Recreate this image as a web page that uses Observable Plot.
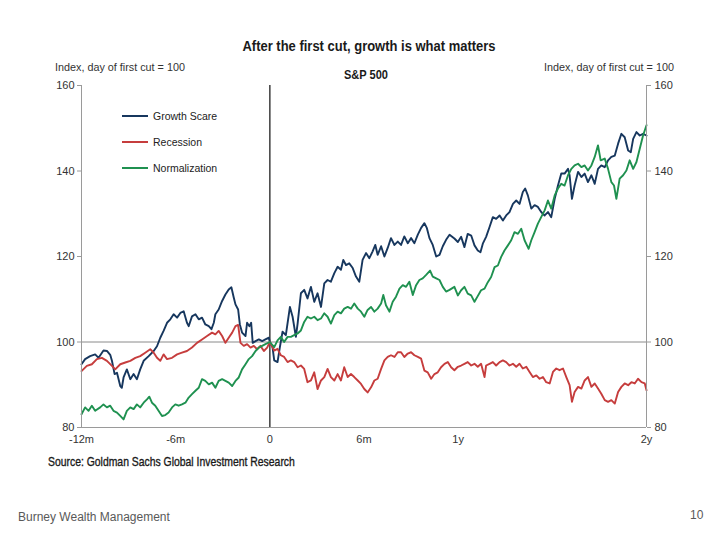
<!DOCTYPE html>
<html><head><meta charset="utf-8">
<script src="https://cdn.jsdelivr.net/npm/d3@7"></script>
<script src="https://cdn.jsdelivr.net/npm/@observablehq/plot@0.6"></script>
<style>
html,body{margin:0;padding:0;background:#fff;}
#wrap{position:relative;width:720px;height:540px;overflow:hidden;font-family:"Liberation Sans",Arial,sans-serif;background:#fff;}
#wrap svg{position:absolute;left:0;top:0;}
.t{position:absolute;white-space:nowrap;line-height:1;}
.leg{position:absolute;display:flex;align-items:center;font-size:10.5px;color:#222;line-height:1;}
.leg span.sw{display:inline-block;width:26px;height:2px;margin-right:5px;}
</style></head><body><div id="wrap"></div>
<script>
// months relative to first cut, index value (day of first cut = 100)
const growthScare = [
[-12.00,94.8],[-11.77,96],[-11.45,96.7],[-11.13,97.1],[-10.91,96.3],[-10.60,98],[-10.38,97.9],[-10.17,97],[-10.06,95.6],[-9.89,92.5],[-9.74,92.8],[-9.53,89.7],[-9.43,89.3],[-9.32,91.7],[-9.11,93.6],[-8.89,91.3],[-8.68,92.5],[-8.47,91.3],[-8.26,93.6],[-8.04,95.6],[-7.72,96.7],[-7.40,97.9],[-7.19,99],[-6.98,101],[-6.77,102.6],[-6.55,104.5],[-6.34,105.3],[-6.13,106.5],[-5.91,105.7],[-5.70,106.8],[-5.49,107.2],[-5.28,104.5],[-5.17,103.7],[-4.96,106],[-4.74,106.5],[-4.53,105.3],[-4.32,105.7],[-4.11,104.1],[-3.89,103.7],[-3.72,103],[-3.57,104.5],[-3.47,106.5],[-3.26,107.6],[-3.04,109.6],[-2.83,111.1],[-2.62,112.3],[-2.45,112.8],[-2.30,110.4],[-2.19,108.8],[-2.02,107.6],[-1.91,104.1],[-1.77,102.2],[-1.55,101.4],[-1.45,104.5],[-1.30,103.7],[-1.19,104.5],[-1.09,99.8],[-0.91,100.2],[-0.70,100.6],[-0.49,100.2],[-0.28,100.6],[-0.06,101],
[0,100],[0.17,98.8],[0.28,95.7],[0.49,95.3],[0.64,98.8],[0.81,102.4],[1.02,101.6],[1.28,108.2],[1.45,105.9],[1.66,101.2],[1.77,104.3],[1.98,111.4],[2.19,112.2],[2.40,110.2],[2.62,112.9],[2.83,109.4],[3.04,111.4],[3.26,108.2],[3.47,113.7],[3.68,114.5],[3.89,114.1],[4.11,116.1],[4.32,117.6],[4.53,116.9],[4.68,119.2],[4.85,118],[5.06,118.4],[5.28,117.3],[5.49,115.3],[5.70,114.1],[5.91,119.2],[6.13,120.8],[6.34,119.6],[6.55,121.2],[6.72,122.7],[6.87,120.4],[7.09,122.4],[7.30,120],[7.51,122],[7.72,124.3],[7.94,122.7],[8.15,123.5],[8.36,122.7],[8.57,124.7],[8.79,123.1],[9.00,124.3],[9.21,123.1],[9.43,125.1],[9.64,126.7],[9.85,127.8],[10.00,126.7],[10.17,124.3],[10.38,122.7],[10.60,120],[10.81,120.4],[11.02,122.4],[11.23,123.9],[11.45,125.1],
[11.76,124.2],[11.98,123.4],[12.19,124.6],[12.40,122.2],[12.61,125.3],[12.83,124.9],[13.04,122.6],[13.25,121.4],[13.42,121],[13.57,123],[13.78,124.6],[14.00,126.9],[14.21,129.2],[14.42,128.8],[14.64,129.6],[14.85,128.4],[15.06,129.6],[15.27,130.4],[15.49,132.3],[15.70,133.1],[15.91,132.3],[16.12,135.1],[16.27,135.9],[16.44,134.3],[16.66,131.2],[16.87,132],[17.08,131.6],[17.29,130.4],[17.51,129.6],[17.72,130.4],[17.93,129.2],[18.15,133.5],[18.36,136.6],[18.57,139.4],[18.78,139.4],[19.00,140.5],[19.10,139],[19.25,133.5],[19.42,136.6],[19.64,139.8],[19.85,138.6],[20.06,139.4],[20.27,137.4],[20.49,139],[20.70,137],[20.91,140.5],[21.12,141.3],[21.34,140.9],[21.55,142.5],[21.76,143.3],[21.98,143.6],[22.19,146.4],[22.40,148.7],[22.61,147.9],[22.83,144.8],[23.00,144.4],[23.15,147.5],[23.36,149.1],[23.57,148.3],[23.78,148.7],[24.00,148.3]
];
const recession = [
[-12,93.2],[-11.66,94.4],[-11.34,94.8],[-11.02,96],[-10.70,96.3],[-10.38,95.6],[-10.06,94.4],[-9.85,93.6],[-9.53,94.8],[-9.21,95.2],[-8.89,95.6],[-8.57,96.3],[-8.26,96.7],[-7.94,97.5],[-7.62,98.3],[-7.40,97.5],[-7.19,96.3],[-6.98,95.6],[-6.77,97.1],[-6.55,96],[-6.23,96.3],[-5.91,97.1],[-5.60,97.5],[-5.28,97.9],[-4.96,98.7],[-4.64,99.8],[-4.32,100.6],[-4.00,101.4],[-3.68,102.2],[-3.47,101.8],[-3.26,102.6],[-3.04,101.4],[-2.83,99.8],[-2.62,101],[-2.40,102.2],[-2.19,103.7],[-2.02,104],[-1.87,99.8],[-1.66,99.1],[-1.45,99.5],[-1.23,98.7],[-1.02,99.1],[-0.81,98.3],[-0.60,99.1],[-0.38,97.9],[-0.17,98.7],
[0,100],[0.28,98],[0.49,98.4],[0.70,96.9],[0.91,96.5],[1.13,95.3],[1.34,95.7],[1.55,95.3],[1.77,94.1],[1.98,94.5],[2.19,93.7],[2.40,90.6],[2.62,91],[2.83,92.9],[3.04,89],[3.26,91],[3.47,91.8],[3.68,93.7],[3.89,91.8],[4.11,91],[4.32,92.5],[4.53,91],[4.74,94.1],[4.96,91.8],[5.17,92.5],[5.38,91.8],[5.60,91],[5.81,90.2],[6.02,89],[6.23,88.2],[6.45,89.4],[6.66,91],[6.87,91.4],[7.09,93.7],[7.30,95.7],[7.51,96.5],[7.72,96.9],[7.94,96.5],[8.15,97.6],[8.36,97.6],[8.57,96.5],[8.79,97.3],[9.00,97.6],[9.21,96.9],[9.43,96.5],[9.64,96.1],[9.85,93.3],[10.06,92.9],[10.28,91.4],[10.49,92.5],[10.70,92.9],[10.91,94.1],[11.13,94.9],[11.34,95.3],
[11.55,94.1],[11.76,93.4],[11.98,94.2],[12.19,94.5],[12.40,94.9],[12.61,95.3],[12.83,94.5],[13.04,94.9],[13.25,94.2],[13.46,94.9],[13.68,91.8],[13.78,94.5],[14.00,94.9],[14.21,95.3],[14.42,94.5],[14.64,95.3],[14.85,95.7],[15.06,95.3],[15.27,94.5],[15.49,94.9],[15.70,94.2],[15.91,94.9],[16.12,93.8],[16.34,94.2],[16.55,93],[16.76,91.8],[16.98,92.2],[17.19,91.4],[17.40,91.8],[17.61,90.6],[17.83,90.3],[18.04,93],[18.25,93.8],[18.46,93.4],[18.68,93.8],[18.89,91.8],[19.10,89.9],[19.25,86],[19.42,88.3],[19.64,89.5],[19.85,89.1],[20.06,91],[20.27,91.8],[20.49,89.5],[20.70,90.3],[20.91,89.1],[21.12,87.9],[21.34,86.4],[21.55,86],[21.76,86.4],[21.98,85.6],[22.19,88.3],[22.40,89.5],[22.61,90.3],[22.83,89.9],[23.04,90.6],[23.25,90.3],[23.46,91.4],[23.68,90.6],[23.89,90.3],[24.00,88.7]
];
const normalization = [
[-12,83.1],[-11.77,84.7],[-11.55,83.9],[-11.34,85.1],[-11.13,83.9],[-10.81,84.7],[-10.60,85.4],[-10.38,84.7],[-10.17,85.1],[-9.96,83.9],[-9.74,83.5],[-9.53,82.7],[-9.32,81.9],[-9.11,83.9],[-8.89,84.7],[-8.68,84.3],[-8.47,85.4],[-8.26,84.7],[-8.04,85.8],[-7.83,86.6],[-7.68,87.2],[-7.51,85.8],[-7.30,85.1],[-7.09,83.9],[-6.87,82.7],[-6.66,82.9],[-6.45,83.5],[-6.23,84.7],[-6.02,85.4],[-5.81,85.1],[-5.60,85.4],[-5.38,85.8],[-5.17,87],[-4.96,87.8],[-4.74,88.6],[-4.53,89.3],[-4.32,91.3],[-4.11,90.9],[-3.89,90.1],[-3.68,90.5],[-3.47,89.3],[-3.26,90.9],[-3.04,91.3],[-2.83,90.9],[-2.62,90.5],[-2.40,89.7],[-2.19,90.9],[-1.98,91.7],[-1.77,93.6],[-1.55,94.8],[-1.34,96],[-1.13,96.7],[-0.91,97.9],[-0.70,98.7],[-0.49,99.1],[-0.28,99.5],
[0,100],[0.28,98.8],[0.49,100.4],[0.70,101.2],[0.91,100],[1.13,101.2],[1.34,101.2],[1.55,101.6],[1.77,102],[1.98,102.7],[2.19,104.7],[2.40,105.9],[2.62,105.5],[2.83,105.9],[3.04,105.1],[3.26,105.5],[3.47,106.7],[3.68,105.9],[3.89,104.3],[4.11,106.3],[4.32,107.1],[4.53,106.7],[4.74,107.8],[4.96,108.2],[5.17,107.8],[5.38,109],[5.60,107.8],[5.81,107.1],[6.02,105.9],[6.23,107.5],[6.45,108.2],[6.66,107.1],[6.87,107.8],[7.09,109],[7.23,111],[7.40,108.6],[7.62,107.1],[7.83,109.4],[8.04,110.6],[8.26,112.5],[8.47,113.3],[8.68,112.9],[8.89,114.1],[9.11,111],[9.32,113.3],[9.53,114.5],[9.74,114.9],[9.96,115.7],[10.21,116.7],[10.38,115.3],[10.60,114.9],[10.81,114.5],[11.02,112.9],[11.23,111.8],[11.45,112.2],
[11.76,112.9],[11.98,110.9],[12.19,112.1],[12.40,112.9],[12.61,111.3],[12.83,110.9],[13.04,109.4],[13.21,110.5],[13.46,112.1],[13.68,112.5],[13.89,114],[14.10,115.2],[14.32,117.5],[14.53,117.9],[14.74,119.9],[14.95,121.4],[15.17,122.6],[15.38,123.8],[15.59,125.7],[15.81,125.3],[16.02,126.5],[16.23,123.8],[16.49,121.8],[16.66,123.8],[16.87,125.7],[17.08,127.7],[17.29,129.2],[17.51,130.8],[17.72,133.1],[17.93,131.2],[18.15,134.3],[18.36,135.9],[18.57,137],[18.78,136.6],[19.00,139],[19.21,140.5],[19.42,141.3],[19.64,141.7],[19.85,140.9],[20.06,141.3],[20.27,140.1],[20.49,141.3],[20.70,143.3],[20.91,146],[21.08,142.5],[21.34,142.9],[21.55,140.5],[21.76,137.4],[21.93,136.6],[22.08,133.5],[22.29,138.2],[22.51,139],[22.72,140.1],[22.93,142.5],[23.15,140.5],[23.36,142.1],[23.57,145.2],[23.78,148.3],[24.00,150.7]
];
const seriesNames = ["Growth Scare", "Recession", "Normalization"];
const seriesColors = ["#17375e", "#c63d3d", "#1f9150"];
const yTicks = [80, 100, 120, 140, 160];
const xTickValues = [-12, -6, 0, 6, 12, 24];
const xTickLabels = ["-12m", "-6m", "0", "6m", "1y", "2y"];

const allSeries = [growthScare, recession, normalization];
const rows = allSeries.flatMap((s, i) => s.map(([m, v]) => ({month: m, value: v, series: seriesNames[i]})));

const axisFont = {fontFamily: "Liberation Sans, Arial, sans-serif", fontSize: 11};
const chart = Plot.plot({
  width: 720, height: 540,
  marginTop: 85, marginRight: 74, marginBottom: 113, marginLeft: 81,
  style: {fontFamily: "Liberation Sans, Arial, sans-serif", fontSize: "11px", color: "#333", background: "transparent", overflow: "visible"},
  x: {domain: [-12, 24]},
  y: {domain: [80, 160]},
  color: {domain: seriesNames, range: seriesColors},
  marks: [
    Plot.ruleY([100], {stroke: "#8a8a8a", strokeWidth: 1}),
    Plot.ruleX([0], {stroke: "#4a4a4a", strokeWidth: 1.6}),
    Plot.line(rows, {x: "month", y: "value", z: "series", stroke: "series", strokeWidth: 1.9, strokeLinejoin: "round"}),
    Plot.ruleY([80], {stroke: "#9a9a9a", strokeWidth: 1}),
    Plot.ruleX([-12, 24], {stroke: "#9a9a9a", strokeWidth: 1}),
    Plot.axisY({anchor: "left", ticks: yTicks, tickSize: 4, tickPadding: 3, label: null, stroke: "#9a9a9a", fill: "#333", ...axisFont}),
    Plot.axisY({anchor: "right", ticks: yTicks, tickSize: 4, tickPadding: 4, label: null, stroke: "#9a9a9a", fill: "#333", ...axisFont}),
    Plot.axisX({ticks: xTickValues, tickFormat: d => xTickLabels[xTickValues.indexOf(d)], tickSize: 0, tickPadding: 8, label: null, fill: "#333", ...axisFont})
  ]
});

const wrap = document.getElementById("wrap");
wrap.appendChild(chart);

function addText(txt, css) {
  const d = document.createElement("div");
  d.className = "t";
  d.textContent = txt;
  Object.assign(d.style, css);
  wrap.appendChild(d);
  return d;
}
addText("After the first cut, growth is what matters", {left: "369px", top: "38px", fontSize: "15px", fontWeight: "bold", color: "#1a1a1a", transform: "translateX(-50%) scaleX(0.865)"});
addText("Index, day of first cut = 100", {left: "55px", top: "62px", fontSize: "10.8px", color: "#333"});
addText("Index, day of first cut = 100", {left: "544px", top: "62px", fontSize: "10.8px", color: "#333"});
addText("S&P 500", {left: "366px", top: "68px", fontSize: "13px", fontWeight: "bold", color: "#1a1a1a", transform: "translateX(-50%) scaleX(0.85)"});
addText("Source: Goldman Sachs Global Investment Research", {left: "48px", top: "455px", fontSize: "13px", color: "#1a1a1a", transformOrigin: "left center", transform: "scaleX(0.8)", webkitTextStroke: "0.35px #1a1a1a"});
addText("Burney Wealth Management", {left: "18px", top: "511px", fontSize: "12px", color: "#595959"});
addText("10", {left: "690px", top: "509px", fontSize: "12px", color: "#595959"});

seriesNames.forEach((name, i) => {
  const d = document.createElement("div");
  d.className = "leg";
  d.style.left = "122px";
  d.style.top = (110 + i * 26) + "px";
  d.style.height = "12px";
  const sw = document.createElement("span");
  sw.className = "sw";
  sw.style.background = seriesColors[i];
  const lab = document.createElement("span");
  lab.textContent = name;
  d.appendChild(sw); d.appendChild(lab);
  wrap.appendChild(d);
});
</script>
</body></html>
